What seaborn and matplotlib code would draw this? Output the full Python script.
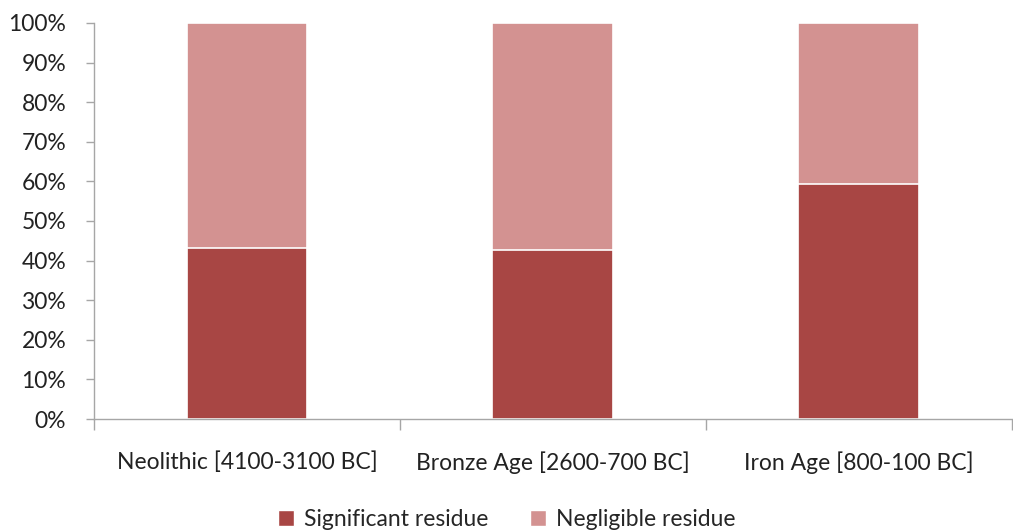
import matplotlib
matplotlib.use('Agg')
import matplotlib.pyplot as plt
import seaborn as sns
import pandas as pd
from matplotlib.ticker import FixedLocator, PercentFormatter
from matplotlib.patches import Patch

# Data
periods = ['Neolithic [4100-3100 BC]', 'Bronze Age [2600-700 BC]', 'Iron Age [800-100 BC]']
significant = [43.3, 42.8, 59.3]
negligible = [56.7, 57.2, 40.7]

dark = '#A84644'
light = '#D39291'

sns.set_style('white')
plt.rcParams['font.family'] = ['Lato', 'DejaVu Sans']

df = pd.DataFrame({'period': periods, 'significant': significant, 'negligible': negligible})
df['total'] = df['significant'] + df['negligible']

fig = plt.figure(figsize=(10.13, 5.32), dpi=100)
ax = fig.add_axes([0.0928, 0.2124, 0.906, 0.7444])

# stacked bars: draw totals first (light), then significant portion on top (dark)
sns.barplot(data=df, x='period', y='total', color=light, width=0.395,
            edgecolor='white', linewidth=1.2, saturation=1, ax=ax)
sns.barplot(data=df, x='period', y='significant', color=dark, width=0.395,
            edgecolor='white', linewidth=1.2, saturation=1, ax=ax)

ax.set_xlim(-0.5, 2.5)
ax.set_ylim(0, 100)
ax.set_yticks(range(0, 101, 10))
ax.yaxis.set_major_formatter(PercentFormatter(decimals=0))
ax.set_xlabel('')
ax.set_ylabel('')

for side in ['top', 'right']:
    ax.spines[side].set_visible(False)
for side in ['left', 'bottom']:
    ax.spines[side].set_color('#A6A6A6')
    ax.spines[side].set_linewidth(1)

ax.tick_params(axis='y', which='major', left=True, length=6, width=1, color='#A6A6A6',
               labelsize=16.5, labelcolor='#222222', pad=14)
ax.tick_params(axis='x', which='major', bottom=False, labelsize=16.5, labelcolor='#222222', pad=20)
ax.xaxis.set_minor_locator(FixedLocator([-0.5, 0.5, 1.5, 2.5]))
ax.tick_params(axis='x', which='minor', bottom=True, length=8, width=1, color='#A6A6A6')

handles = [Patch(facecolor=dark, label='Significant residue'),
           Patch(facecolor=light, label='Negligible residue')]
fig.legend(handles=handles, loc='lower center', bbox_to_anchor=(0.5, -0.035), ncol=2,
           frameon=False, fontsize=16.5, handlelength=0.7, handleheight=0.7,
           handletextpad=0.45, columnspacing=1.8)

fig.savefig('out.png', dpi=100)
